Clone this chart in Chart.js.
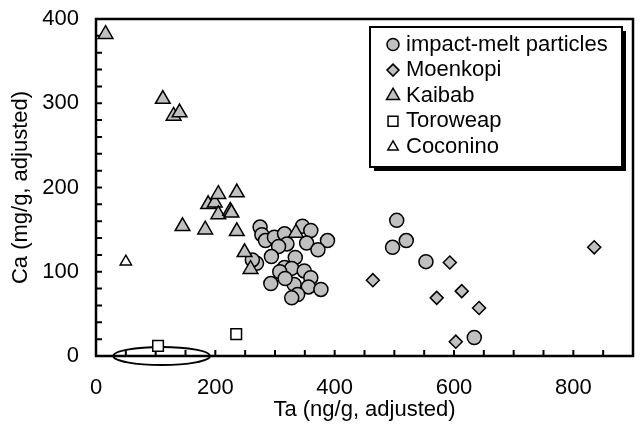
<!DOCTYPE html>
<html>
<head>
<meta charset="utf-8">
<script src="https://cdn.jsdelivr.net/npm/chart.js@4.4.0/dist/chart.umd.min.js"></script>
<style>
  html, body { margin: 0; padding: 0; background: #fff; }
  #wrap { width: 644px; height: 425px; }
</style>
</head>
<body>
<div id="wrap"><canvas id="scatter-chart"></canvas></div>
<script>
// [Ta ng/g, Ca mg/g]
const impactMelt = [
  [275,153],[278,144],[284,137],[299,141],[316,145],[320,133],[306,130],[346,154],
  [360,149],[353,134],[388,137],[372,126],[294,118],[334,117],[316,105],[328,104],
  [308,100],[349,101],[360,93],[293,86],[332,85],[356,82],[377,79],[338,73],
  [328,69],[317,92],[269,110],[262,114],[504,161],[520,137],[497,129],[553,112],[634,22]
];
const moenkopi = [[464,90],[593,111],[571,69],[613,77],[642,57],[603,17],[835,129]];
const kaibab = [
  [16,382],[112,305],[130,285],[140,289],[145,154],[183,150],[188,180],[199,182],
  [205,192],[205,168],[225,172],[227,170],[236,194],[236,148],[249,123],[259,103],[335,146]
];
const toroweap = [[104,12],[235,26]];
const coconino = [[50,112]];

const seriesNames = ["impact-melt particles", "Moenkopi", "Kaibab", "Toroweap", "Coconino"];
const xTickLabels = [0, 200, 400, 600, 800];
const yTickLabels = [0, 100, 200, 300, 400];

// circled region near the x axis (data units)
const ringCenter = [110, 0];
const ringRadius = [81, 10.7];

const gray = '#c0c0c0';
const pts = arr => arr.map(p => ({x: p[0], y: p[1]}));

function marker(ctx, style, x, y, r, fill) {
  ctx.beginPath();
  if (style === 'circle') {
    ctx.arc(x, y, r, 0, Math.PI * 2);
  } else if (style === 'rectRot') {
    ctx.moveTo(x, y - r); ctx.lineTo(x + r, y); ctx.lineTo(x, y + r); ctx.lineTo(x - r, y);
    ctx.closePath();
  } else if (style === 'triangle') {
    for (let i = 0; i < 3; i++) {
      const a = i * 2 * Math.PI / 3;
      const px = x + Math.sin(a) * r, py = y - Math.cos(a) * r;
      i ? ctx.lineTo(px, py) : ctx.moveTo(px, py);
    }
    ctx.closePath();
  } else {
    const s = r * Math.SQRT1_2;
    ctx.rect(x - s, y - s, 2 * s, 2 * s);
  }
  ctx.fillStyle = fill;
  ctx.fill();
  ctx.stroke();
}

const frameTicks = {
  id: 'frameTicks',
  beforeDatasetsDraw(chart) {
    const {ctx, chartArea: a, scales: {x, y}} = chart;
    ctx.save();
    ctx.strokeStyle = '#000';
    ctx.lineWidth = 2;
    ctx.beginPath();
    x.ticks.forEach(t => {
      if (t.value <= x.min || t.value >= x.max) return;
      const px = x.getPixelForValue(t.value);
      ctx.moveTo(px, a.bottom); ctx.lineTo(px, a.bottom - 6);
    });
    y.ticks.forEach(t => {
      if (t.value <= y.min || t.value >= y.max) return;
      const py = y.getPixelForValue(t.value);
      ctx.moveTo(a.left, py); ctx.lineTo(a.left + 6, py);
    });
    ctx.stroke();
    ctx.lineWidth = 2.5;
    ctx.strokeRect(a.left, a.top, a.right - a.left, a.bottom - a.top);
    // ring around the low-Ta samples
    const cx = x.getPixelForValue(ringCenter[0]);
    const cy = y.getPixelForValue(ringCenter[1]);
    const rx = Math.abs(x.getPixelForValue(ringCenter[0] + ringRadius[0]) - cx);
    const ry = Math.abs(y.getPixelForValue(ringCenter[1] + ringRadius[1]) - cy);
    ctx.lineWidth = 2;
    ctx.beginPath();
    ctx.ellipse(cx, cy, rx, ry, 0, 0, Math.PI * 2);
    ctx.stroke();
    ctx.restore();
  }
};

const legendBox = {
  id: 'legendBox',
  afterDraw(chart) {
    const {ctx, chartArea: a} = chart;
    const left = a.right - 263, top = a.top + 8, w = 252, h = 140;
    ctx.save();
    ctx.fillStyle = '#000';
    ctx.fillRect(left + 4, top + 4, w, h);
    ctx.fillStyle = '#fff';
    ctx.fillRect(left, top, w, h);
    ctx.strokeStyle = '#000';
    ctx.lineWidth = 2;
    ctx.strokeRect(left, top, w, h);
    ctx.font = '22px Arial, "Liberation Sans", sans-serif';
    ctx.textBaseline = 'middle';
    ctx.lineWidth = 1.5;
    chart.data.datasets.forEach((ds, i) => {
      const cy = top + 17.5 + i * 25.6;
      marker(ctx, ds.pointStyle, left + 23, cy, ds.legendRadius, ds.backgroundColor);
      ctx.fillStyle = '#000';
      ctx.fillText(ds.label, left + 36, cy);
    });
    ctx.restore();
  }
};

// scales would otherwise reserve room for their edge labels
const noPad = s => { s.paddingTop = s.paddingBottom = s.paddingLeft = s.paddingRight = 0; };

Chart.defaults.font.family = 'Arial, "Liberation Sans", sans-serif';
Chart.defaults.font.size = 22;
Chart.defaults.color = '#000';

new Chart(document.getElementById('scatter-chart'), {
  type: 'scatter',
  data: {
    datasets: [{
      label: seriesNames[0], data: pts(impactMelt), pointStyle: 'circle',
      backgroundColor: gray, borderColor: '#000', pointRadius: 7, pointBorderWidth: 1.5,
      legendRadius: 6, order: 4
    }, {
      label: seriesNames[1], data: pts(moenkopi), pointStyle: 'rectRot',
      backgroundColor: gray, borderColor: '#000', pointRadius: 6.5, pointBorderWidth: 1.5,
      legendRadius: 6, order: 3
    }, {
      label: seriesNames[2], data: pts(kaibab), pointStyle: 'triangle',
      backgroundColor: gray, borderColor: '#000', pointRadius: 8.5, pointBorderWidth: 1.5,
      legendRadius: 7.5, order: 2
    }, {
      label: seriesNames[3], data: pts(toroweap), pointStyle: 'rect',
      backgroundColor: '#fff', borderColor: '#000', pointRadius: 7.5, pointBorderWidth: 1.5,
      legendRadius: 7, order: 1
    }, {
      label: seriesNames[4], data: pts(coconino), pointStyle: 'triangle',
      backgroundColor: '#fff', borderColor: '#000', pointRadius: 6.5, pointBorderWidth: 1.5,
      legendRadius: 6, order: 0
    }]
  },
  options: {
    responsive: true,
    maintainAspectRatio: false,
    animation: false,
    devicePixelRatio: 1,
    layout: { autoPadding: false, padding: { top: 19, right: 11, left: 0, bottom: 0 } },
    plugins: { legend: { display: false }, tooltip: { enabled: false } },
    scales: {
      x: {
        type: 'linear', min: 0, max: 900,
        grid: { display: false, drawTicks: false },
        border: { display: false },
        ticks: {
          stepSize: 50, autoSkip: false, maxRotation: 0, padding: 19,
          callback: v => xTickLabels.includes(v) ? String(v) : ''
        },
        title: { display: true, text: 'Ta (ng/g, adjusted)', padding: { top: 0, bottom: 2 } },
        afterFit: s => { s.height = 69; noPad(s); }
      },
      y: {
        type: 'linear', min: 0, max: 400,
        grid: { display: false, drawTicks: false },
        border: { display: false },
        ticks: {
          stepSize: 20, autoSkip: false, padding: 17,
          callback: v => yTickLabels.includes(v) ? String(v) : ''
        },
        title: { display: true, text: 'Ca (mg/g, adjusted)', padding: { top: 8, bottom: 0 } },
        afterFit: s => { s.width = 96; noPad(s); }
      }
    },
    clip: false
  },
  plugins: [frameTicks, legendBox]
});
</script>
</body>
</html>
